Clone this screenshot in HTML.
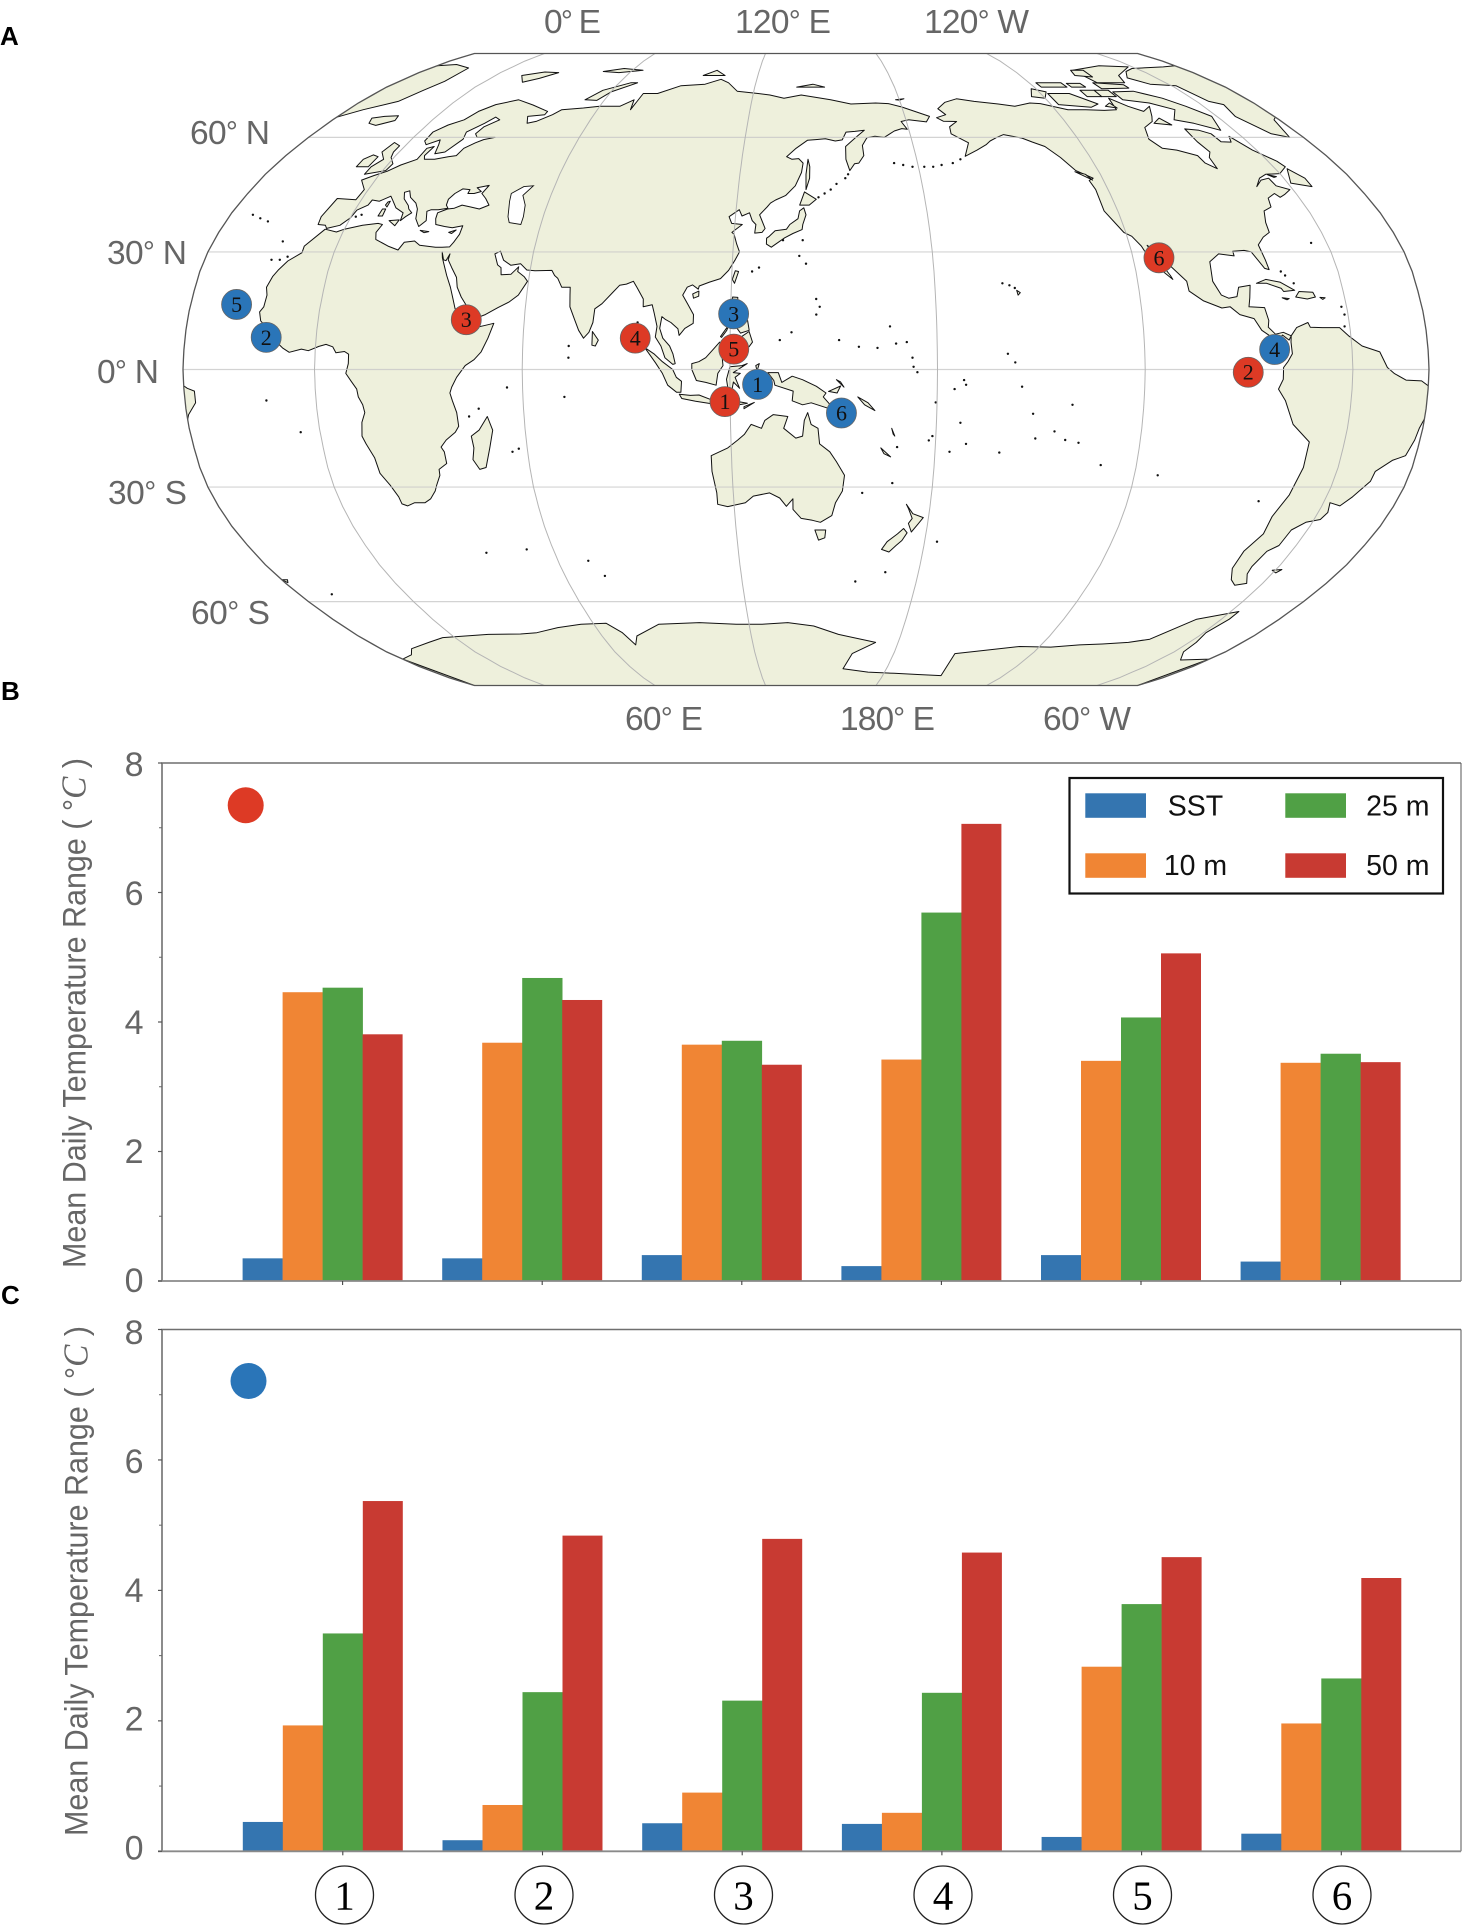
<!DOCTYPE html>
<html lang="en">
<head>
<meta charset="utf-8">
<title>Mean daily temperature range at sites</title>
<style>
html,body{margin:0;padding:0;background:#fff;}
svg{display:block;font-family:"Liberation Sans",sans-serif;}
.geo{font-size:33.5px;fill:#666;}
.letter{font-size:26px;font-weight:bold;fill:#000;}
</style>
</head>
<body>
<svg id="fig" xmlns="http://www.w3.org/2000/svg" width="1462" height="1932" viewBox="0 0 1462 1932">
<rect width="1462" height="1932" fill="#fff"/>
<text class="letter" x="0" y="45">A</text>
<text class="letter" x="1" y="700">B</text>
<text class="letter" x="1" y="1304">C</text>
<g id="mapLayer"></g>
<text class="geo" x="544" y="33" textLength="57">0<tspan font-size="30" dy="-2">°</tspan><tspan dy="2"> E</tspan></text>
<text class="geo" x="735" y="33" textLength="96">120<tspan font-size="30" dy="-2">°</tspan><tspan dy="2"> E</tspan></text>
<text class="geo" x="924" y="33" textLength="105">120<tspan font-size="30" dy="-2">°</tspan><tspan dy="2"> W</tspan></text>
<text class="geo" x="190" y="144" textLength="80">60<tspan font-size="30" dy="-2">°</tspan><tspan dy="2"> N</tspan></text>
<text class="geo" x="107" y="264" textLength="80">30<tspan font-size="30" dy="-2">°</tspan><tspan dy="2"> N</tspan></text>
<text class="geo" x="97" y="383" textLength="62">0<tspan font-size="30" dy="-2">°</tspan><tspan dy="2"> N</tspan></text>
<text class="geo" x="108" y="504" textLength="79">30<tspan font-size="30" dy="-2">°</tspan><tspan dy="2"> S</tspan></text>
<text class="geo" x="191" y="624" textLength="79">60<tspan font-size="30" dy="-2">°</tspan><tspan dy="2"> S</tspan></text>
<text class="geo" x="625" y="730" textLength="78">60<tspan font-size="30" dy="-2">°</tspan><tspan dy="2"> E</tspan></text>
<text class="geo" x="840" y="730" textLength="95">180<tspan font-size="30" dy="-2">°</tspan><tspan dy="2"> E</tspan></text>
<text class="geo" x="1043" y="730" textLength="88">60<tspan font-size="30" dy="-2">°</tspan><tspan dy="2"> W</tspan></text>
<g id="panelB"></g>
<g id="panelC"></g>
</svg>
<script>
// ---- chart data ----
const categories = ['1','2','3','4','5','6'];
const seriesNames = ['SST','10 m','25 m','50 m'];
const seriesColors = ['#3475b0','#f08534','#50a045','#c83a32'];
const yTickLabels = [0,2,4,6,8];
const yMinorTicks = [1,3,5,7];
const bSst = [0.35,0.35,0.40,0.23,0.40,0.30];
const b10m = [4.46,3.68,3.65,3.42,3.40,3.37];
const b25m = [4.53,4.68,3.71,5.69,4.07,3.51];
const b50m = [3.81,4.34,3.34,7.06,5.06,3.38];
const cSst = [0.45,0.17,0.43,0.42,0.22,0.27];
const c10m = [1.93,0.71,0.90,0.59,2.83,1.96];
const c25m = [3.34,2.44,2.31,2.43,3.79,2.65];
const c50m = [5.37,4.84,4.79,4.58,4.51,4.19];
// ---- site data: id, lon, lat ----
const redSites = [[1,118.5,-8.2],[2,-90.2,-0.7],[3,43.1,12.7],[4,92.5,8.0],[5,121.1,5.2],[6,-112.2,28.5]];
const blueSites = [[1,128,-3.8],[2,-14.5,8.2],[3,120.9,14.2],[4,-82.4,5.1],[5,-24.6,16.6],[6,152.3,-11.1]];
const parallels = [60,30,0,-30,-60];
const meridians = [0,60,120,180,-120,-60];
// ---- land outlines: lon,lat sequences ----
const landPolygons = {
 afroEurasia:[-5.9,35.8,-9.8,31.5,-9.6,29.8,-13,27.7,-14.8,25.5,-16,23.7,-17,21,-16.3,19,-16.5,16,-17.4,14.7,-16.7,12.4,-15,11,-13.3,9,-12,7.5,-9.5,5.5,-7.5,4.4,-4,5.2,-2,4.8,1,5.9,3,6.4,5,5.8,6,4.3,8.5,4.6,9.7,3.9,9.7,1.5,9,-1,10.5,-3,12,-5,12.3,-7,13.4,-9,13.8,-11,12.6,-13.5,12,-17,12.8,-19,14.5,-22.5,15,-26.5,17,-29.5,18.3,-32.5,18.5,-34.3,20,-34.8,22.5,-34,25.7,-34,27.8,-33,30,-31,31,-29.5,32.7,-27,32.9,-25.5,35.5,-24,35.4,-21,34.7,-19.8,36.5,-18,39.5,-16,40.7,-14.5,40.5,-11,39.5,-8,38.9,-6,39.5,-4.5,41,-2,43.5,1,46,2.5,48,4.5,49.8,8,51.2,11.8,49,11.3,45,10.5,43.2,11.5,42.7,13,41,15,39.5,15.5,38.5,18,37.2,21,35.5,24,34,26.8,33,28.5,32.5,30,33.5,28,34.3,27.8,35,29.5,34.9,28,36.5,26,38.5,23.5,39.2,21,40.8,18.5,42.5,16.5,43,13,45,12.8,48.5,14,52,15.8,55,17.2,57.5,19,59.7,22.5,58.5,23.7,56.4,25,56.4,26.2,54.5,24.3,51.6,24.2,51.2,26,50,26.7,48.5,29.5,50,30.2,51.5,27.9,54,26.6,56.8,27,59,25.4,61.5,25.2,66.5,25.3,67.5,24,68.5,23.3,70,21,72.5,21,72.7,19,73,16,74.5,13,76,10,77.5,8,79,9.5,80,12,80.3,15.5,82.3,16.8,85,19.5,87,21.5,89,21.8,91,22.5,92.3,20.8,94.3,18,94.4,16,97,16.5,97.7,14.5,98.7,11,98.3,8.3,100,6,101.2,3,103.5,1.3,104.2,1.5,103.5,4,102.5,6,100.5,8,99.5,10.5,100,13.5,101,12.8,102.7,12,104.8,10.4,105.2,8.7,106.8,10.5,109.2,11.8,109.2,14,107.5,16.5,105.8,19,107,21,108.5,21.6,110.3,20.5,110.5,21.3,113.5,22.3,116.7,23.2,119,25.3,120.8,28,122,30,121,32,120,34.5,119.3,35,122.3,37,119,37.3,118,39,121,40.8,122,39.2,124.3,40,125.3,38,126.5,37,126.3,34.8,128.5,35,129.4,36,127.5,39.5,129.7,41.5,130.7,42.5,132.3,43.3,135.5,44.5,138.5,47,140.5,50.5,141,53,139.5,54.2,137.2,54,135.3,54.7,138.5,57,142.5,59.2,145.5,59.4,149,59.6,152.5,59,155,59.3,156.7,61.5,160,61.7,163.5,62,160,60,156,57.5,155.7,54,156.7,51,158.5,52.8,160,53,162,55,162,57.8,164,59.9,167,60.3,170.3,60,174.5,61.8,177.5,62.5,179.5,62.3,178,64.5,181,65,187.5,64.4,189.5,66,180,68.8,175,69.8,170,70,160,69.7,152,71,140,72.5,133,71.5,127,72.5,122,73,113,73.7,108,76.5,104,77.7,98,76,88,75.5,80,73,74,73,73,68,72,71,68,69,60,69,54,68.5,46,68,44,66.5,40,64.6,37,64,35,66,41,66.5,41,67.5,33,69.4,25,71,18,69.5,14,67.5,12,65,8,63.5,5,61.5,5.3,59,7,58,10.5,59.3,11.5,58,13,55.5,16,56,18.5,59.5,17.3,61.5,21,64,23,65.8,25.5,65,22,63,21.3,61,23,60,29.5,60,26,59.4,24,58.5,21.5,57,21,55,18.5,54.7,14.5,54,11,54,10,55,10.5,57.5,8.5,57,8.5,54,4.5,52.5,1.7,50.8,-1.5,49.7,-4.5,48.5,-1.3,46,-1.8,43.4,-8,43.7,-9.3,39,-8.9,37,-6.5,36.8,-5.6,36,-5.3,36.1,-2,36.8,0,38.7,0.7,40.7,3.2,42,3.5,43.3,6,43,8.7,44.3,10.5,42.9,12.5,41.3,15.7,40,16,38,17,39,18.4,40,16.8,41,16,41.9,13.5,43.6,12.3,45.3,13.7,45.7,15.2,44,18,42.5,19.5,41,20.5,38.5,22.5,36.5,24,38,22.9,40.4,24,40.8,26.2,40.8,29,41.2,28,42,27.7,43.5,28.8,45,30.5,46.2,33,46,33,45,35,45,37,45.5,35,46.5,38.5,47.1,37.5,45,39.5,43.7,41.5,42,39,41,36,41.5,33,42,31,41.2,29,41,26.5,40,26.7,38.5,27.5,37,30.5,36.5,33,36.2,36,36.7,36,34.5,35,32.5,34.2,31.3,32,31.2,30,31.2,25,31.7,23,32.8,20,32.5,19,30.5,15.5,31.5,11,33.2,10.2,35,11,37,9.5,37.3,5,36.8,0,35.8,-2,35.1],
 northAmerica:[-168,65.6,-164,66.5,-166,68.3,-162,70.2,-156.5,71.3,-150,70.5,-141,69.7,-135,69,-128,70,-124,69.8,-115,68,-108,68,-101,67.8,-96,68,-94,71.5,-90,69,-86,67.5,-81.5,69,-85,66,-87,64.5,-92,62.8,-94.5,59.5,-92.5,57,-88,56.5,-82.5,55,-82,53,-79.5,51.5,-79,54.5,-77,56,-78,58.8,-77.7,62.4,-73,62,-70,61,-69.5,58.8,-66,58.7,-64.5,60.3,-61.5,56.5,-57,53.5,-56,52,-60,50.2,-65,50,-68,49,-71,46.8,-68,48.5,-65,49,-64.5,47,-61,46,-64,44.7,-66,44,-67,45,-70,43.8,-71,41.5,-74,40.5,-75.5,37.5,-76,35,-78.5,33.8,-81,31.8,-80.5,28,-80.3,25.5,-81.5,25.8,-82.8,28,-84,30,-86,30.4,-89.5,30.2,-89.5,29,-94,29.5,-97.3,27.5,-97.8,22.5,-96,19,-94,18.2,-91.5,18.6,-90.5,21,-87,21.5,-87.8,18.3,-88.5,16,-84,15.8,-83.3,12.5,-83.7,10.8,-81.8,9,-79.5,9.5,-77.3,8.6,-78,7.5,-79.8,8.8,-81,7.5,-83,8.3,-85.7,10,-87.5,13,-91.5,14,-94,16,-96.5,15.7,-101.5,17.5,-105.3,20,-105.5,22.5,-109,26,-112.5,30,-114.7,31.7,-112.5,27.8,-110,24,-109.5,23,-112,25,-115,28,-116.5,31.5,-118.5,34,-120.6,35,-122.5,37.8,-124.3,40.5,-124,46,-124.7,48.4,-123,49,-127.5,51,-130.3,54.5,-133.5,57.5,-137,58.7,-140,59.8,-146,60.8,-149,60,-152,59,-154,58,-158,56.5,-163,54.8,-160,58.5,-162,59.5,-165,61,-164.5,63,-161,64.5,-166,64.6],
 southAmerica:[-77.3,8.6,-75.5,10.7,-72,12,-71.5,10.8,-68,10.7,-63,10.7,-60.5,8.5,-57,6,-52,4.5,-50,0.5,-48,-1,-44.5,-2.7,-40,-2.9,-37,-4.8,-35,-5.5,-35,-8.5,-37.5,-11.5,-39,-15,-39.5,-18,-41,-22,-44.5,-23.2,-48.5,-26,-48.8,-28.5,-52,-32.5,-54.5,-34.8,-58,-34,-57,-36.5,-58,-38.3,-62,-39,-65,-41,-65.5,-45,-68,-46.5,-69,-50.5,-68.3,-52.5,-65.5,-55,-69,-55.5,-72,-54,-75,-51,-75.5,-46.5,-73,-42,-73.5,-37.5,-71.5,-32,-70.3,-25,-70.3,-18.5,-76,-14,-79,-8,-81.3,-5,-80,-2.5,-80,0.5,-78.7,2,-77.3,4,-77.5,7],
 greenland:[-73,78.2,-68,80.5,-62,81.8,-45,82.5,-30,83.5,-20,82,-18,77,-20,74,-23,70.5,-32,68,-40,65,-43,60,-48,61,-53,66,-51,69.5,-55,70.5,-58,75.5,-68,76],
 antarctica:[-38,-77.5,-30,-76,-25,-74,-13.6,-72,-5,-70.5,5,-70,15,-69.5,28,-69.4,35,-69,45,-67.5,55,-66.5,65,-66.2,69,-69,71,-72.8,74,-70,85,-66.5,101,-66,115,-66.5,125,-66.5,135,-66,145,-67,155,-69.5,170.7,-72,162,-75.6,159.5,-81,172,-82.5,185,-83,197,-83.5,209,-84,206.5,-75.6,215,-74.8,231.6,-73.3,245,-73.5,256,-72.8,265,-72.5,275,-72,282,-71,290.6,-65,303,-62.8,303,-65,301,-69,303,-72,304,-75,310,-77.8,322,-77.5,322,-90,-38,-90],
 greatBritain:[-5,50,1,51,1.5,52.8,-1,54.5,-2,56,-2,57.7,-5,58.6,-6,56,-3,54,-5,52],
 ireland:[-6,52,-10,52,-10,54,-8,55.2,-5.7,54.7],
 iceland:[-24,65.5,-20,66,-15,66.2,-14,64.8,-19,63.4,-22.5,64],
 svalbard:[12,79,20,80.3,27,80,22,78,17,76.7],
 franzJosef:[47,80.5,55,81.8,65,81,55,80],
 novayaZemlya:[52,71,56,74,65,76.5,68,76.5,60,73.5,57,70.8],
 severnaya:[95,79,105,79,100,81],
 newSiberia:[138,75,150,75,145,76],
 wrangel:[178.5,71,182,71.3,180,70.9],
 sardinia:[8.3,39.2,9.7,39.2,9.5,41,8.5,41],
 corsica:[8.7,42,9.5,41.5,9.5,43,8.9,42.8],
 sicily:[12.5,38,15.5,38.2,15,36.7],
 crete:[23.5,35.5,26.3,35.2,25,34.9],
 cyprus:[32.5,35,34.5,35.6,33.5,34.7],
 honshu:[130.8,34,132.5,35.4,136,35.8,137,37,139.5,38.5,140,40.5,141.3,41.3,142,39.5,141,37,140.8,35.7,138,34.7,135.5,33.6,131.5,31.2,130,32,130,33.5],
 hokkaido:[140,42,141.5,45.4,145.3,43.5,143,42],
 sakhalin:[142,46,142,50,142.7,54,143.3,52,143.2,49],
 taiwan:[120.2,23,121,25.2,122,25,120.9,22],
 hainan:[108.7,19.3,110.5,20,110.5,18.7,109,18.2],
 luzon:[120.5,18.5,122,18.4,122,16,124,13,121,13.7,120,16],
 mindanao:[122,7,123.5,8.5,125.5,9.7,126.5,7,125.5,5.8,124,6.5],
 visayas:[122,11.5,125,12.5,125.5,10,123,9.3,122,10.5],
 palawan:[117.2,8.4,119.5,11.3,119,10,117.5,8.2],
 borneo:[109,1.5,111,2,113,3,115,5,117,7,119,5,117.7,3.5,118,1,116.5,-1,116,-4,113,-3.3,110.3,-2.8,109,0],
 sumatra:[95.3,5.6,98,4,100.5,2,103.5,0,104.5,-2,106,-3,105.8,-5.8,104.5,-5.8,102,-4,100.5,-1,98.5,1.7],
 java:[105.3,-6.3,108.5,-6.6,111,-6.5,114.5,-7.7,114.4,-8.7,110,-8.1,106,-7.4],
 sulawesi:[119.5,-5.5,119,-2.5,120,0.7,123.5,1,125,1.5,121,-0.8,123,-1,121.5,-2,122.8,-4.8,121,-3.2,120.5,-5.5],
 sunda:[115,-8.3,119,-8.4,123,-8.3,125,-8.6,119.5,-9.5],
 timor:[124,-10,127,-8.4,124,-9.5],
 halmahera:[127.5,1,128.5,1.5,128,0,128,-1],
 seram:[128,-3,130.5,-3.3,128,-3.4],
 newGuinea:[131,-0.8,134,-0.8,135,-3.3,138,-1.7,141,-2.6,145,-4.3,147.8,-6,147,-7,150.5,-10.5,147,-9.5,143.5,-8.5,141,-9,138,-8,138.3,-5.5,133,-4,132.7,-2.8],
 newBritain:[148.5,-5.6,152,-4.2,151,-6],
 newIreland:[150.8,-2.6,153,-4.5,152,-3.2],
 solomons:[157,-7,160,-8.5,162,-10.5,159,-9],
 newCaledonia:[164,-20,167,-22.3,165,-21.5],
 vanuatu:[167,-15,168,-17,167.5,-16.5],
 sriLanka:[80,9.7,81.8,7.5,81,6,80,6.2],
 madagascar:[49.3,-12,50.5,-15.5,49,-20,47,-25,45,-25.5,43.5,-23,44.3,-20,44,-17,46.5,-15.5],
 australia:[114,-22,114,-26,115,-31.5,115,-34.4,118,-35,123.5,-34,126,-32.3,131,-31.5,134,-32.8,136,-34.9,138,-33,138,-35.7,140.5,-38,144,-38.5,146.5,-39,150,-37.3,151,-34,153,-31,153.5,-27,151,-23.5,149,-21,146,-19,145.5,-15,143.5,-14,142.5,-11,141.5,-13,141,-17,139,-17.5,135.5,-15,136.7,-12,132.5,-11.5,130,-13,129,-15,126,-14,124,-16.5,122,-18,119,-20],
 tasmania:[144.8,-41,148.2,-41,148,-43,146,-43.6],
 nzNorth:[172.7,-34.4,175,-36.8,178.4,-37.8,177,-39.5,175.3,-41.5,174,-39.3,175,-38,173.5,-35.5],
 nzSouth:[172.7,-40.6,174,-41.7,172.7,-43.7,171,-45,169,-46.7,166.5,-46,168,-44,171,-42],
 cuba:[-85,22,-82,23,-78,22.3,-74.2,20.2,-77.5,19.9,-78,20.7,-82,22],
 hispaniola:[-74.3,18.5,-73,19.9,-69,19.7,-68.5,18.5,-71,18],
 jamaica:[-78.3,18.3,-76.3,18.1,-77,17.8],
 puertoRico:[-67.2,18.4,-65.7,18.3,-66.5,17.9],
 baffin:[-62,66,-65,62,-72,64,-78,65,-73,68,-80,70,-89,71,-89,73.5,-80,73.7,-72,71.5,-67,69],
 victoria:[-117,69.5,-105,68.7,-101,69.7,-108,73,-117,73],
 ellesmere:[-90,76.5,-78,76.5,-75,79,-62,82.5,-75,83,-92,81],
 banks:[-125,72,-120,71.5,-117,73.5,-122,74.5],
 devon:[-92,74.5,-80,74.7,-80,75.8,-92,76.5],
 melville:[-117,75,-106,75,-106,76.5,-117,76.5],
 bathurst:[-104,75,-98,75,-98,76.3,-104,76.3],
 princeWales:[-102,72,-96,72,-96,74,-102,74],
 kingWilliam:[-99,69,-95,68.5,-96,70],
 axelHeiberg:[-95,79,-88,78.5,-87,81,-93,81],
 somerset:[-96,72,-90,72,-90,74,-96,74],
 southampton:[-87,64,-81,63.5,-83,65.5],
 newfoundland:[-59,47.7,-53,46.8,-53,49,-56,51.5],
 anticosti:[-64.5,49.9,-62,49.4,-63,49.2],
 vancouver:[-128,50.7,-123.5,48.5,-125,50],
 falkland:[-61,-51.5,-58,-51.3,-59,-52.2],
 southGeorgia:[-38,-54,-36,-54,-37,-54.8],
 hawaii:[-156,20.2,-155,19.6,-155.7,19]
};
const lakePolygons = {
 caspian:[47,45,50,46.8,53,47,51,44.5,53,42,53.8,39,53.8,37,50,37.5,49,39,47.5,43]
};
const smallIslands = [-160,22,-158,21.5,-156.5,20.8,137.8,9.5,134.4,7.5,151.6,7.5,166.4,11,157.3,5.8,162.7,5.5,168.1,6.6,171.2,7,172.8,3,173.1,0.7,174.2,-0.7,-159.6,4,-157.5,1.8,-172.3,-2.7,-175,-5,-171.7,-3.9,-155.5,-4.4,-140.7,-9,-173,-13.6,-152,-11.3,-145.4,-15.8,-150.8,-17.6,-142,-18,-138,-18.7,-130.6,-24.4,-113,-27,-161,-21.2,-175.7,-21,-171,-19,179.6,-8.4,178,-18.1,179,-17,168.8,-19.8,145,14,146,16,145,18,70,-49,73.5,-53,51.4,-46,37.7,-46.9,-26.5,-58,55.5,-21,57.5,-20.2,55.5,-4.6,44,-12,47,-10,73.3,3,73.3,6,72,-7,-25,37.8,-28,38.6,-31,39.5,-17,32.7,-18,28,-15.5,28,-13.5,28.8,-14.4,-7.9,-5.7,-16,146,44,148,45,150,46,152,47.5,155,49,156,50,-178,52,-175,52,-172,52.5,-168,53,-165,54,172,53,175,52.5,178,52,-77,25,-76,24,-74,22,-61.5,16,-61,14,-61.5,11,-176,-44,-80,-33.6,93,12,93,8,-64.7,32.3,3,39.5,1.5,39,135,33,141,33,140,29,142,27,128,26,126,25,159,-31.5,167.9,-29,168.8,-52,159,-54.5];
// ---- Robinson tables (5° latitude step) ----
const robX = [1,.9986,.9954,.99,.9822,.973,.96,.9427,.9216,.8962,.8679,.835,.7986,.7597,.7186,.6732,.6213,.5722,.5322];
const robY = [0,.062,.124,.186,.248,.31,.372,.434,.4958,.5571,.6176,.6769,.7346,.7903,.8435,.8936,.9394,.9761,1];
const centerLon = 142, mapCx = 806, mapCy = 369.5, mapHalfW = 623, mapHalfH = 316;
const SVGNS = 'http://www.w3.org/2000/svg';
function mk(tag, attrs, parent){
  const el = document.createElementNS(SVGNS, tag);
  for(const k in attrs){ el.setAttribute(k, attrs[k]); }
  parent.appendChild(el);
  return el;
}
function interp(tab, lat){
  const a = Math.min(90, Math.abs(lat)) / 5, i = Math.min(17, Math.floor(a));
  return tab[i] + (tab[i+1] - tab[i]) * (a - i);
}
function px(dlon, lat){ return mapCx + mapHalfW * interp(robX, lat) * dlon / 180; }
function py(lat){ return mapCy - (lat < 0 ? -1 : 1) * mapHalfH * interp(robY, lat); }
function wrap(lon){ let d = (lon - centerLon) % 360; if(d < -180) d += 360; if(d >= 180) d -= 360; return d; }

// ---- map ----
const mapLayer = document.getElementById('mapLayer');
const defs = mk('defs', {}, mapLayer);
const clip = mk('clipPath', {id:'globeClip'}, defs);
let outline = '';
for(let lat = 90; lat >= -90; lat -= 2.5){ outline += (outline ? 'L' : 'M') + px(180, lat).toFixed(1) + ' ' + py(lat).toFixed(1); }
for(let lat = -90; lat <= 90; lat += 2.5){ outline += 'L' + px(-180, lat).toFixed(1) + ' ' + py(lat).toFixed(1); }
outline += 'Z';
mk('path', {d: outline}, clip);
const clipped = mk('g', {'clip-path':'url(#globeClip)'}, mapLayer);



function polyPath(flat){
  let out = '';
  [-360, 0, 360].forEach(function(k){
    let s = '', visible = false;
    for(let i = 0; i < flat.length; i += 2){
      const d = flat[i] - centerLon + k;
      if(d >= -180 && d <= 180) visible = true;
      s += (i ? 'L' : 'M') + px(d, flat[i+1]).toFixed(1) + ' ' + py(flat[i+1]).toFixed(1);
    }
    if(visible) out += s + 'Z';
  });
  return out;
}
Object.keys(landPolygons).forEach(function(name){
  const p = mk('path', {d: polyPath(landPolygons[name]), fill:'#eef0dc', stroke:'#111', 'stroke-width':'1', 'stroke-linejoin':'round'}, clipped);
  
  
});
Object.keys(lakePolygons).forEach(function(name){
  const p = mk('path', {d: polyPath(lakePolygons[name]), fill:'#fff', stroke:'#111', 'stroke-width':'0.9'}, clipped);
  
  
});
for(let i = 0; i < smallIslands.length; i += 2){
  const dot = mk('circle', {cx: px(wrap(smallIslands[i]), smallIslands[i+1]).toFixed(1), cy: py(smallIslands[i+1]).toFixed(1), r:'1.2', fill:'#111'}, clipped);
  
  
}
parallels.forEach(function(lat){
  const l = mk('line', {x1: px(-180, lat), x2: px(180, lat), y1: py(lat), y2: py(lat), stroke:'#c9c9c9', 'stroke-width':'1.2', opacity:'.8'}, clipped);
  
  
});
meridians.forEach(function(lon){
  let d = '';
  const dl = wrap(lon);
  for(let lat = -90; lat <= 90; lat += 2.5){ d += (d ? 'L' : 'M') + px(dl, lat).toFixed(1) + ' ' + py(lat).toFixed(1); }
  const m = mk('path', {d: d, fill:'none', stroke:'#b5b5b5', 'stroke-width':'1'}, clipped);
  
  
});
const frame = mk('path', {d: outline, fill:'none', stroke:'#555', 'stroke-width':'1.3'}, mapLayer);



function drawSites(list, color, label){
  list.forEach(function(s){
    const x = px(wrap(s[1]), s[2]), y = py(s[2]);
    const c = mk('circle', {cx: x, cy: y, r: 15, fill: color, stroke:'#666', 'stroke-width':'0.8'}, mapLayer);
    
    
    const t = mk('text', {x: x, y: y + 7.5, 'text-anchor':'middle', 'font-family':'"Liberation Serif",serif', 'font-size':'22', fill:'#111'}, mapLayer);
    t.textContent = s[0];
    
    
  });
}
drawSites(redSites, '#dd3a25', 'red');
drawSites(blueSites, '#2a75b8', 'blue');

// ---- bar panels ----
function drawPanel(host, prefix, series, cfg){
  const yScale = function(v){ return cfg.base - v * (cfg.base - cfg.top) / 8; };
  const xScale = function(i){ return cfg.x0 + i * cfg.xStep; };
  const labelY = function(v){ return cfg.label0 - v * cfg.labelStep; };
  const left = 162, right = 1461, barW = 40;
  series.forEach(function(vals, j){
    vals.forEach(function(v, i){
      const r = mk('rect', {x: xScale(i) + (j - 2.5) * barW, y: yScale(v), width: barW + (j < 3 ? 0.3 : 0), height: cfg.base - yScale(v), fill: seriesColors[j]}, host);
      
      
    });
  });
  const box = mk('path', {d: 'M' + left + ' ' + cfg.base + 'V' + cfg.top + 'H' + right, fill:'none', stroke:'#6f6f6f', 'stroke-width':'1.6'}, host);
  
  
  const rightEdge = mk('line', {x1: right, x2: right, y1: cfg.top, y2: cfg.base, stroke:'#555', 'stroke-width':'1'}, host);
  
  
  const xAxis = mk('line', {x1: left - 4, x2: right, y1: cfg.base, y2: cfg.base, stroke:'#8a8a8a', 'stroke-width':'1.8'}, host);
  
  
  yTickLabels.forEach(function(v){
    const tk = mk('line', {x1: left - 4, x2: left, y1: yScale(v), y2: yScale(v), stroke:'#555', 'stroke-width':'1.2'}, host);
    
    
    const t = mk('text', {x: 143.5, y: labelY(v) + 12, 'text-anchor':'end', 'font-size':'34', fill:'#666'}, host);
    t.textContent = v;
    
    
  });
  yMinorTicks.forEach(function(v){
    const tk = mk('line', {x1: left - 3, x2: left, y1: yScale(v), y2: yScale(v), stroke:'#666', 'stroke-width':'1'}, host);
    
    
  });
  categories.forEach(function(c, i){
    const tk = mk('line', {x1: xScale(i), x2: xScale(i), y1: cfg.base, y2: cfg.base + 4, stroke:'#444', 'stroke-width':'1.1'}, host);
    
    
  });
  const title = mk('text', {transform: 'translate(' + cfg.titleX + ',' + cfg.titleY + ') rotate(-90)', 'text-anchor':'middle', 'font-size':'32', fill:'#666', textLength:'510', lengthAdjust:'spacingAndGlyphs'}, host);
  
  
  title.appendChild(document.createTextNode('Mean Daily Temperature Range ( °'));
  const it = mk('tspan', {'font-style':'italic', 'font-family':'"Liberation Serif",serif', 'font-size':'35'}, title);
  it.textContent = 'C';
  title.appendChild(document.createTextNode(' )'));
  const dot = mk('circle', {cx: cfg.dotX, cy: cfg.dotY, r: 18, fill: cfg.dotColor}, host);
  
  
}
drawPanel(document.getElementById('panelB'), 'panel-b', [bSst, b10m, b25m, b50m],
  {top:763, base:1281, x0:342.6, xStep:199.6, label0:1280, labelStep:64.5, titleX:85.3, titleY:1013, dotX:245.7, dotY:805.3, dotColor:'#dd3a25'});
drawPanel(document.getElementById('panelC'), 'panel-c', [cSst, c10m, c25m, c50m],
  {top:1329.5, base:1851.3, x0:342.8, xStep:199.7, label0:1847.6, labelStep:64.45, titleX:87.6, titleY:1581, dotX:248.5, dotY:1381, dotColor:'#2a75b8'});

// ---- legend in panel B ----
const panelB = document.getElementById('panelB');
const legendBox = mk('rect', {x:1069.5, y:778, width:373.5, height:115.5, fill:'#fff', stroke:'#111', 'stroke-width':'2.2'}, panelB);


seriesNames.forEach(function(n, j){
  const col = j < 2 ? 0 : 1, row = j % 2;
  const sw = mk('rect', {x: 1085.3 + col * 200, y: 793.3 + row * 60, width: 60.7, height: 24.5, fill: seriesColors[j]}, panelB);
  
  
  const t = mk('text', {x: 1195.5 + col * 202.3, y: 815.5 + row * 59.7, 'text-anchor':'middle', 'font-size':'28.5', fill:'#111'}, panelB);
  t.textContent = n;
  
  
});

// ---- circled x labels in panel C ----
const panelC = document.getElementById('panelC');
categories.forEach(function(c, i){
  const cx = 344.5 + i * 199.5;
  const ring = mk('circle', {cx: cx, cy: 1895, r: 29, fill:'#fff', stroke:'#222', 'stroke-width':'1.3'}, panelC);
  
  
  const t = mk('text', {x: cx, y: 1909.5, 'text-anchor':'middle', 'font-family':'"Liberation Serif",serif', 'font-size':'41', fill:'#000'}, panelC);
  t.textContent = c;
  
  
});
</script>
</body>
</html>
